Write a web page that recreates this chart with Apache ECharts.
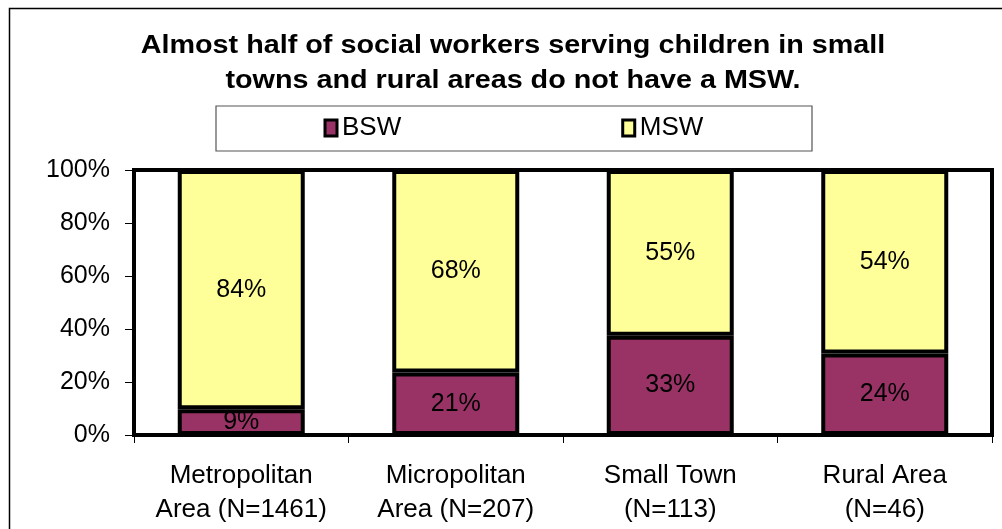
<!DOCTYPE html>
<html>
<head>
<meta charset="utf-8">
<script src="https://cdn.jsdelivr.net/npm/echarts@6/dist/echarts.min.js"></script>
<style>
  html, body { margin: 0; padding: 0; background: #fff; }
  #chart { width: 1002px; height: 529px; }
</style>
</head>
<body>
<div id="chart"></div>
<script>
// Degree mix of social workers serving children, by type of area
const categories = ['Metropolitan\nArea (N=1461)', 'Micropolitan\nArea (N=207)', 'Small Town\n(N=113)', 'Rural Area\n(N=46)'];
const bswValues = [9, 21, 33, 24];
const mswValues = [84, 68, 55, 54];
const yTicks = [0, 20, 40, 60, 80, 100];

// Each column is stacked to 100%: share of each degree within its column
const totals = bswValues.map((v, i) => v + mswValues[i]);
const bswShare = bswValues.map((v, i) => ({ value: v / totals[i] * 100, raw: v }));
const mswShare = mswValues.map((v, i) => ({ value: v / totals[i] * 100, raw: v }));

const FONT = '"Liberation Sans", Arial, sans-serif';
const chart = echarts.init(document.getElementById('chart'), null, { renderer: 'canvas' });

const barLabel = {
  show: true,
  position: 'inside',
  color: '#000',
  fontFamily: FONT,
  fontSize: 25,
  formatter: p => p.data.raw + '%'
};

chart.setOption({
  animation: false,
  backgroundColor: '#fff',
  graphic: [
    {
      type: 'rect', z: -10, silent: true,
      shape: { x: 9.5, y: 8.5, width: 1100, height: 600 },
      style: { fill: '#fff', stroke: '#000', lineWidth: 1.5 }
    },
    {
      type: 'rect', z: 0, silent: true,
      shape: { x: 216, y: 106, width: 596, height: 45 },
      style: { fill: '#fff', stroke: '#555', lineWidth: 1.2 }
    },
    {
      type: 'text', z: 5, silent: true,
      x: 513, y: 29, scaleX: 1.15,
      style: {
        text: 'Almost half of social workers serving children in small\ntowns and rural areas do not have a MSW.',
        font: 'bold 25px ' + FONT,
        fill: '#000',
        align: 'center',
        verticalAlign: 'top',
        lineHeight: 35
      }
    }
  ],
  legend: {
    left: 323.5,
    top: 115,
    padding: 0,
    itemWidth: 12,
    itemHeight: 16,
    itemGap: 220,
    icon: 'rect',
    itemStyle: { borderColor: '#000', borderWidth: 3 },
    textStyle: { fontFamily: FONT, fontSize: 26, color: '#000' },
    data: ['BSW', 'MSW']
  },
  grid: {
    left: 134, right: 10, top: 170, bottom: 94,
    show: true, borderColor: '#000', borderWidth: 4, backgroundColor: '#fff'
  },
  xAxis: {
    type: 'category',
    data: categories,
    axisLine: { show: true, lineStyle: { color: '#000', width: 4 } },
    axisTick: { show: true, length: 8, lineStyle: { color: '#000', width: 1 } },
    axisLabel: {
      fontFamily: FONT, fontSize: 26, color: '#000',
      lineHeight: 34, margin: 24, interval: 0
    },
    splitLine: { show: false }
  },
  yAxis: {
    type: 'value',
    min: yTicks[0],
    max: yTicks[yTicks.length - 1],
    interval: yTicks[1] - yTicks[0],
    axisLine: { show: false },
    axisTick: { show: true, length: 9, lineStyle: { color: '#000', width: 1 } },
    axisLabel: {
      fontFamily: FONT, fontSize: 25, color: '#000', margin: 24,
      formatter: '{value}%'
    },
    splitLine: { show: false }
  },
  series: [
    {
      name: 'BSW', type: 'bar', stack: 'degree', barWidth: 127,
      itemStyle: { color: '#993366', borderColor: '#000', borderWidth: 4 },
      label: barLabel,
      data: bswShare
    },
    {
      name: 'MSW', type: 'bar', stack: 'degree', barWidth: 127,
      itemStyle: { color: '#FFFF99', borderColor: '#000', borderWidth: 4 },
      label: barLabel,
      data: mswShare
    }
  ]
});
</script>
</body>
</html>
